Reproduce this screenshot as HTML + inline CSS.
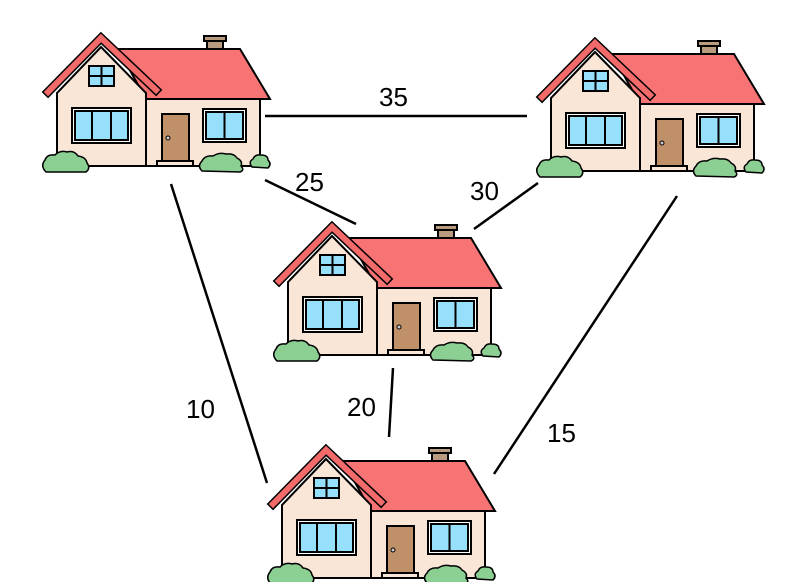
<!DOCTYPE html>
<html><head><style>
body{margin:0;background:#fff;}
svg{display:block;}
text{font-family:"Liberation Sans",sans-serif;font-size:26px;fill:#000;}
</style></head><body>
<svg width="788" height="582" viewBox="0 0 788 582" xmlns="http://www.w3.org/2000/svg">
<defs>
<g id="h" stroke="#000" stroke-width="2" stroke-linejoin="miter">
<rect x="207" y="36" width="16" height="13" fill="#b99b80"/>
<rect x="204" y="36" width="22" height="5" fill="#b99b80"/>
<rect x="146" y="99" width="114" height="67" fill="#fae6d7"/>
<polygon points="118,49 240,49 270,99 146,99" fill="#f87474"/>
<polygon points="57,166 57,93 101,47 146,93 146,166" fill="#fae6d7"/>
<polyline points="48,92 101,38 156,90" fill="none" stroke="#000" stroke-width="9" stroke-linecap="square"/>
<polyline points="48,92 101,38 156,90" fill="none" stroke="#f26a6a" stroke-width="6" stroke-linecap="square"/>
<rect x="89" y="66" width="25" height="20" fill="#96e0fb"/>
<line x1="101.5" y1="66" x2="101.5" y2="86"/><line x1="89" y1="76" x2="114" y2="76"/>
<rect x="72" y="108" width="59" height="35" fill="#fff"/>
<rect x="75" y="111" width="53" height="29" fill="#96e0fb"/>
<line x1="92" y1="111" x2="92" y2="140"/><line x1="111" y1="111" x2="111" y2="140"/>
<rect x="203" y="109" width="43" height="33" fill="#fff"/>
<rect x="206" y="112" width="37" height="27" fill="#96e0fb"/>
<line x1="224.5" y1="112" x2="224.5" y2="139"/>
<rect x="162" y="114" width="27" height="48" fill="#c09068"/>
<circle cx="168" cy="138" r="2" fill="#ccc" stroke-width="1"/>
<rect x="157" y="161" width="36" height="5" fill="#fae6d7"/>
<path d="M46,172 Q40,166 45,160 Q47,154 55,155 Q60,150 67,152 Q74,150 78,156 Q86,157 87,163 Q91,168 86,172 Z" fill="#8bcf92" stroke-width="1.5"/>
<path d="M202,171 Q197,166 202,161 Q205,155 213,156 Q219,152 226,154 Q234,153 237,158 Q243,161 241,166 Q245,170 240,172 Z" fill="#8bcf92" stroke-width="1.5"/>
<path d="M252,167 Q248,162 253,159 Q255,154 261,155 Q268,155 268,160 Q272,164 268,168 Z" fill="#8bcf92" stroke-width="1.5"/>
</g>
</defs>
<g stroke="#000" stroke-width="2.5">
<line x1="265" y1="116" x2="527" y2="116"/>
<line x1="265" y1="180" x2="356" y2="224"/>
<line x1="538" y1="183" x2="474" y2="229"/>
<line x1="171" y1="184" x2="267" y2="483"/>
<line x1="393" y1="368" x2="389" y2="437"/>
<line x1="677" y1="196" x2="494" y2="474"/>
</g>
<use href="#h"/>
<use href="#h" transform="translate(494,5)"/>
<use href="#h" transform="translate(231,189)"/>
<use href="#h" transform="translate(225,412)"/>
<text x="379" y="106">35</text>
<text x="295" y="191">25</text>
<text x="470" y="200">30</text>
<text x="186" y="418">10</text>
<text x="347" y="416">20</text>
<text x="547" y="442">15</text>
</svg>
</body></html>
